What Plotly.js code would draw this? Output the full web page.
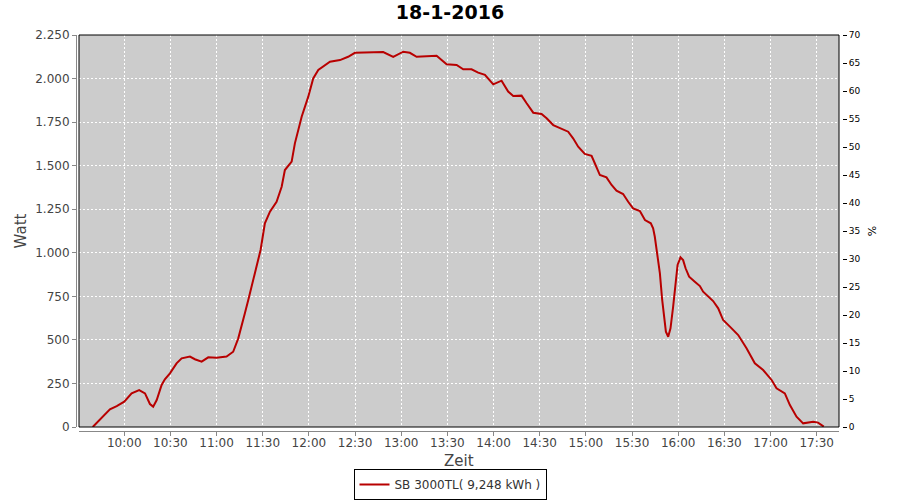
<!DOCTYPE html>
<html>
<head>
<meta charset="utf-8">
<script src="https://cdn.plot.ly/plotly-3.0.1.min.js"></script>
<style>html,body{margin:0;padding:0;background:#fff;}#chart{width:900px;height:500px;}</style>
</head>
<body>
<div id="chart"></div>
<script>
const chartDate = "2016-01-18";
const chartTitle = "18-1-2016";
const xTitle = "Zeit";
const seriesName = "SB 3000TL( 9,248 kWh )";
const times = [
 "09:39:30","09:44:12","09:50:42","09:55:06","10:00:00","10:04:48","10:09:42","10:13:30","10:16:42","10:18:48",
 "10:21:06","10:24:18","10:26:24","10:29:42","10:34:00","10:37:18","10:42:42","10:45:54","10:50:18","10:54:36",
 "11:00:00","11:06:30","11:10:48","11:14:06","11:16:18","11:18:24","11:20:36","11:22:48","11:24:54","11:27:06",
 "11:28:36","11:31:24","11:34:42","11:39:00","11:42:18","11:44:24","11:48:48","11:50:54","11:55:18","11:59:36",
 "12:02:48","12:06:06","12:13:42","12:20:12","12:25:30","12:29:54","12:35:18","12:41:48","12:48:18","12:54:48",
 "13:01:18","13:05:36","13:10:00","13:23:00","13:29:30","13:36:00","13:40:18","13:45:42","13:50:00","13:54:24",
 "13:59:48","14:05:12","14:09:30","14:12:48","14:18:12","14:21:30","14:25:48","14:31:12","14:34:30","14:38:48",
 "14:43:06","14:48:30","14:51:42","14:55:00","14:59:18","15:03:42","15:05:48","15:09:06","15:13:24","15:16:42",
 "15:19:54","15:24:12","15:27:30","15:30:42","15:35:06","15:38:24","15:42:12","15:43:42","15:44:48","15:46:18",
 "15:48:06","15:49:36","15:50:54","15:52:00","15:53:30","15:55:00","15:56:42","15:58:18","15:59:36","16:01:30",
 "16:03:12","16:04:48","16:07:06","16:10:48","16:14:06","16:16:12","16:22:42","16:26:00","16:29:12","16:33:36",
 "16:39:00","16:44:24","16:49:48","16:55:12","17:00:42","17:03:54","17:09:18","17:12:36","17:16:54","17:21:12",
 "17:27:42","17:30:54","17:34:36"
];
const watts = [
 0,44,101,120,145,193,212,193,132,117,
 155,241,274,308,365,394,404,389,375,400,
 398,404,432,509,576,653,729,805,882,968,
 1016,1169,1236,1293,1379,1475,1523,1628,1781,1896,
 2001,2049,2097,2106,2125,2148,2148,2148,2152,2125,
 2154,2148,2125,2131,2082,2078,2053,2053,2034,2021,
 1967,1988,1925,1900,1902,1858,1804,1797,1772,1733,
 1715,1695,1657,1609,1567,1556,1514,1446,1433,1389,
 1356,1337,1293,1255,1240,1188,1169,1141,1092,987,
 882,729,614,547,518,566,690,825,930,974,
 958,911,863,834,809,777,723,681,614,576,
 528,452,366,327,270,222,193,126,59,21,
 30,25,2
];
const xRange = ["09:30:36","17:44:30"];
const leftRange = [0, 2250];
const rightRange = [0, 70];

const x = times.map(t => chartDate + " " + t);
const font = "DejaVu Sans, Verdana, sans-serif";
const PW = 766, PH = 396;

const traces = [
  {x: x, y: watts, type: "scatter", mode: "lines", name: seriesName,
   line: {color: "#b80000", width: 2}, hoverinfo: "x+y"},
  {x: [], y: [], type: "scatter", mode: "lines", yaxis: "y2", showlegend: false, hoverinfo: "skip"}
];

const layout = {
  width: 900, height: 500,
  paper_bgcolor: "#ffffff", plot_bgcolor: "#cccccc",
  separators: ",.",
  font: {family: font, size: 12, color: "#444444"},
  margin: {l: 76, r: 58, t: 35, b: 69, pad: 0, autoexpand: false},
  title: {text: chartTitle, font: {family: font, size: 19, color: "#000000", weight: "bold"},
          x: 0.5, xref: "container", xanchor: "center", y: 1 - 12/500, yref: "container", yanchor: "middle"},
  showlegend: true,
  legend: {orientation: "h", xref: "container", yref: "container", x: 0.5, xanchor: "center",
           y: 0.0, yanchor: "bottom", bordercolor: "#000000", borderwidth: 1, bgcolor: "#ffffff",
           font: {family: font, size: 12, color: "#333333"}, itemwidth: 30},
  xaxis: {
    type: "date", domain: [3/PW, 763/PW], anchor: "free", position: 0,
    range: [chartDate + " " + xRange[0], chartDate + " " + xRange[1]],
    tick0: chartDate + " 10:00:00", dtick: 1800000, tickformat: "%H:%M",
    ticks: "outside", ticklen: 4, tickcolor: "#888888", tickwidth: 1,
    ticklabelstandoff: -3,
    showline: true, linecolor: "#888888", linewidth: 1,
    showgrid: true, gridcolor: "#ffffff", gridwidth: 1, griddash: "2px,2px",
    zeroline: false, tickfont: {family: font, size: 12, color: "#444444"}
  },
  yaxis: {
    domain: [4/PH, 1], anchor: "free", position: 0,
    range: leftRange, dtick: 250, tick0: 0, tickformat: ",d",
    ticks: "outside", ticklen: 4, tickcolor: "#888888", tickwidth: 1,
    showline: true, linecolor: "#888888", linewidth: 1,
    showgrid: true, gridcolor: "#ffffff", gridwidth: 1, griddash: "2px,2px",
    zeroline: false, tickfont: {family: font, size: 12, color: "#444444"},
    title: {text: "Watt", font: {family: font, size: 15, color: "#444444"}, standoff: 3}
  },
  yaxis2: {
    overlaying: "y", side: "right", anchor: "free", position: 1,
    range: rightRange, dtick: 5, tick0: 0,
    ticks: "outside", ticklen: 4, tickcolor: "#000000", tickwidth: 1,
    showline: false, showgrid: false, zeroline: false,
    tickfont: {family: font, size: 9, color: "#000000"},
    title: {text: "%", font: {family: font, size: 11, color: "#000000"}, standoff: 8}
  },
  annotations: [
    {text: xTitle, xref: "x domain", x: 0.5, xanchor: "center", yref: "paper", y: -30/PH, yanchor: "middle",
     showarrow: false, font: {family: font, size: 15, color: "#444444"}}
  ],
  shapes: [
    {type: "rect", xref: "x domain", yref: "y domain", x0: 0, x1: 1, y0: 0, y1: 1,
     line: {color: "#000000", width: 1}, fillcolor: "rgba(0,0,0,0)", layer: "above"}
  ]
};

Plotly.newPlot("chart", traces, layout, {displayModeBar: false, staticPlot: true});
</script>
</body>
</html>
